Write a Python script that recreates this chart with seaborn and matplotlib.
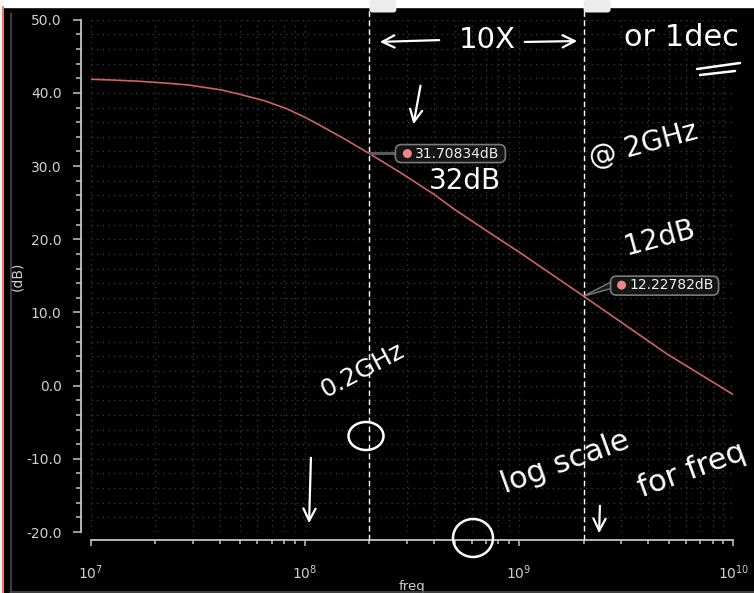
import matplotlib
matplotlib.use("Agg")
import numpy as np
import pandas as pd
import matplotlib.pyplot as plt
import matplotlib.transforms as mtransforms
import seaborn as sns
from matplotlib.lines import Line2D
from matplotlib.patches import FancyBboxPatch, Ellipse, Rectangle, Polygon, Circle
from matplotlib.ticker import FixedLocator, FuncFormatter, LogLocator, MultipleLocator, NullFormatter

# ---- data: open-loop gain magnitude vs frequency ----
freq_hz = [1.0e7, 1.26e7, 1.70e7, 2.30e7, 2.86e7, 3.47e7, 4.07e7, 4.90e7, 6.46e7, 8.13e7,
           1.0e8, 1.17e8, 1.56e8, 2.0e8, 2.78e8, 3.98e8, 5.09e8, 7.85e8, 1.0e9, 2.0e9,
           4.90e9, 1.0e10]
gain_db = [41.86, 41.76, 41.58, 41.31, 41.08, 40.71, 40.40, 39.85, 38.93, 37.90,
           36.67, 35.61, 33.57, 31.70834, 29.14, 26.19, 23.91, 20.26, 18.25, 12.22782,
           4.33, -1.23]

marker_freq = [2.0e8, 2.0e9]
marker_db = [31.70834, 12.22782]
marker_text = ["31.70834dB", "12.22782dB"]

y_ticks = [50.0, 40.0, 30.0, 20.0, 10.0, 0.0, -10.0, -20.0]
x_ticks = [1e7, 1e8, 1e9, 1e10]

W, H, DPI = 754, 593, 100
FG = "#cfcfcf"

sns.set_theme(style="dark", rc={
    "figure.facecolor": "black", "axes.facecolor": "black",
    "text.color": FG, "axes.labelcolor": FG,
    "xtick.color": FG, "ytick.color": FG,
})
plt.rcParams["font.family"] = ["DejaVu Sans"]

fig = plt.figure(figsize=(W / DPI, H / DPI), dpi=DPI, facecolor="black")
ax = fig.add_axes([90.7 / W, 1 - 532 / H, (733.3 - 90.7) / W, (532 - 19.7) / H])
ax.set_facecolor("black")

df = pd.DataFrame({"freq": freq_hz, "gain": gain_db})
sns.lineplot(data=df, x="freq", y="gain", ax=ax, color="#cf6262", lw=1.2, zorder=5)

ax.set_xscale("log")
ax.set_xlim(x_ticks[0], x_ticks[-1])
ax.set_ylim(min(y_ticks), max(y_ticks))

# axes, ticks, grid
for s in ("top", "right"):
    ax.spines[s].set_visible(False)
ax.spines["left"].set_position(("outward", 7.2))
ax.spines["bottom"].set_position(("outward", 5.8))
for s in ("left", "bottom"):
    ax.spines[s].set_color("#c4c4c4")
    ax.spines[s].set_linewidth(1.3)

ax.yaxis.set_major_locator(FixedLocator(y_ticks))
ax.yaxis.set_minor_locator(MultipleLocator(2))
ax.yaxis.set_major_formatter(FuncFormatter(lambda v, p: f"{v:.1f}"))
ax.xaxis.set_major_locator(FixedLocator(x_ticks))
ax.xaxis.set_minor_locator(LogLocator(base=10, subs=np.arange(2, 10), numticks=20))
ax.xaxis.set_minor_formatter(NullFormatter())

ax.tick_params(axis="y", which="major", direction="out", length=5.8, width=1.1,
               color="#c4c4c4", labelcolor=FG, labelsize=10, pad=8)
ax.tick_params(axis="y", which="minor", direction="out", length=3.6, width=1.1,
               color="#c4c4c4")
ax.tick_params(axis="x", which="major", direction="out", length=4.5, width=1.1,
               color="#c4c4c4", labelcolor=FG, labelsize=10, pad=12)
ax.tick_params(axis="x", which="minor", direction="out", length=3.0, width=1.1,
               color="#c4c4c4")
ax.tick_params(left=True, bottom=True, which="both")

ax.grid(True, which="both", color="#353535", linestyle=(0, (1, 3)), lw=1.0)

ax.set_xlabel("freq", fontsize=9.5, color=FG, labelpad=-1)
ax.set_ylabel("(dB)", fontsize=10, color=FG, labelpad=1)

# ---- figure frame decorations ----
ident = mtransforms.IdentityTransform()


def pxy(x, y):
    return (x, H - y)


fig.add_artist(Rectangle((0, H - 7), W, 7, transform=ident, color="white", zorder=1))
fig.add_artist(Rectangle((0, 0), 2, H, transform=ident, color="#f4f4f4", zorder=1))
fig.add_artist(Line2D([2.5, 2.5], [0, H - 7], transform=ident, color="#e37a7a", lw=1.5))
fig.add_artist(Line2D([10.5, 10.5], [1, H - 13], transform=ident, color="#4a4a4a", lw=1.2))
fig.add_artist(Line2D([10, W], [1.5, 1.5], transform=ident, color="#4a4a4a", lw=1.2))

# ---- markers: vertical cursor lines, handles, value labels ----
xa = ax.get_xaxis_transform()
y_lo = -(540 - 532) / (532 - 19.7)
y_hi = (532 - 7) / (532 - 19.7)
for f in marker_freq:
    ax.plot([f, f], [y_lo, y_hi], transform=xa, color="white", lw=1.0,
            dashes=(4, 2.5), clip_on=False, zorder=6)
    px0, _ = ax.transData.transform((f, 0))
    fig.add_artist(FancyBboxPatch((px0, H - 12.5), 27, 12.5, transform=ident,
                                  boxstyle="round,pad=0,rounding_size=3",
                                  fc="#ececec", ec="none", zorder=2))

label_geom = [
    # box dx0, dx1, dy_bottom, dy_top (display px, y up), dot dx, dot dy
    dict(box=(26, 136, -9, 9), dot=(38, 0)),
    dict(box=(27, 135, 1, 20), dot=(38, 11)),
]
for i, (f, v, t) in enumerate(zip(marker_freq, marker_db, marker_text)):
    x0, y0 = ax.transData.transform((f, v))
    g = label_geom[i]
    bx0, bx1, by0, by1 = g["box"]
    if i == 0:
        fig.add_artist(Rectangle((x0, y0 - 1.5), bx0 + 2, 3, transform=ident,
                                 fc="#5a5a5a", ec="none", zorder=7))
    else:
        fig.add_artist(Polygon([(x0, y0), (x0 + bx0 + 2, y0 + 15), (x0 + bx0 + 2, y0 + 8)],
                               closed=True, transform=ident, fc="#1a1a1a",
                               ec="#7a7a7a", lw=1.0, zorder=7))
    fig.add_artist(FancyBboxPatch((x0 + bx0, y0 + by0), bx1 - bx0, by1 - by0,
                                  transform=ident,
                                  boxstyle="round,pad=0,rounding_size=6",
                                  fc="#151515", ec="#7a7a7a", lw=1.2, zorder=8))
    fig.add_artist(Circle((x0 + g["dot"][0], y0 + g["dot"][1]), 4.5, transform=ident,
                          fc="#f08585", ec="none", zorder=9))
    fig.text((x0 + g["dot"][0] + 8) / W, (y0 + g["dot"][1]) / H, t, ha="left",
             va="center", fontsize=10, color="#f0f0f0", zorder=9)

# ---- handwritten notes ----
HW = dict(color="white", family=["DejaVu Sans"], fontweight="normal", zorder=10)


def note(x, y, s, size=20, rot=0):
    fig.text(x / W, 1 - y / H, s, ha="center", va="center", fontsize=size,
             rotation=rot, rotation_mode="anchor", **HW)


def stroke(pts, lw=1.6):
    xs = [p[0] for p in pts]
    ys = [H - p[1] for p in pts]
    fig.add_artist(Line2D(xs, ys, transform=ident, color="white", lw=lw,
                          solid_capstyle="round", zorder=10))


def arrow(p0, p1):
    ax.annotate("", xy=pxy(*p1), xytext=pxy(*p0), xycoords="figure pixels",
                textcoords="figure pixels", annotation_clip=False,
                arrowprops=dict(arrowstyle="->", color="white", lw=1.6,
                                mutation_scale=22))


arrow((442, 40), (377, 42))
note(487, 40, "10X", size=21)
arrow((522, 42), (580, 41))
note(682, 38, "or 1dec", size=22)
stroke([(697, 69), (740, 63)], lw=1.8)
stroke([(700, 75), (735, 71)], lw=1.8)

arrow((421, 83), (413, 127))
note(643, 145, "@ 2GHz", size=20, rot=15)
note(465, 181, "32dB", size=20)
note(660, 238, "12dB", size=20, rot=15)
note(362, 370, "0.2GHz", size=18, rot=28)

fig.add_artist(Ellipse((366, H - 436), 35, 28, transform=ident, fc="none",
                       ec="white", lw=1.8, zorder=10))
fig.add_artist(Ellipse((473, H - 538), 40, 38, transform=ident, fc="none",
                       ec="white", lw=1.8, zorder=10))
arrow((311, 455), (309, 526))
arrow((600, 503), (599, 536))
note(565, 462, "log scale", size=22, rot=20)
note(692, 470, "for freq", size=22, rot=20)

fig.savefig("out.png", dpi=DPI, facecolor="black")
